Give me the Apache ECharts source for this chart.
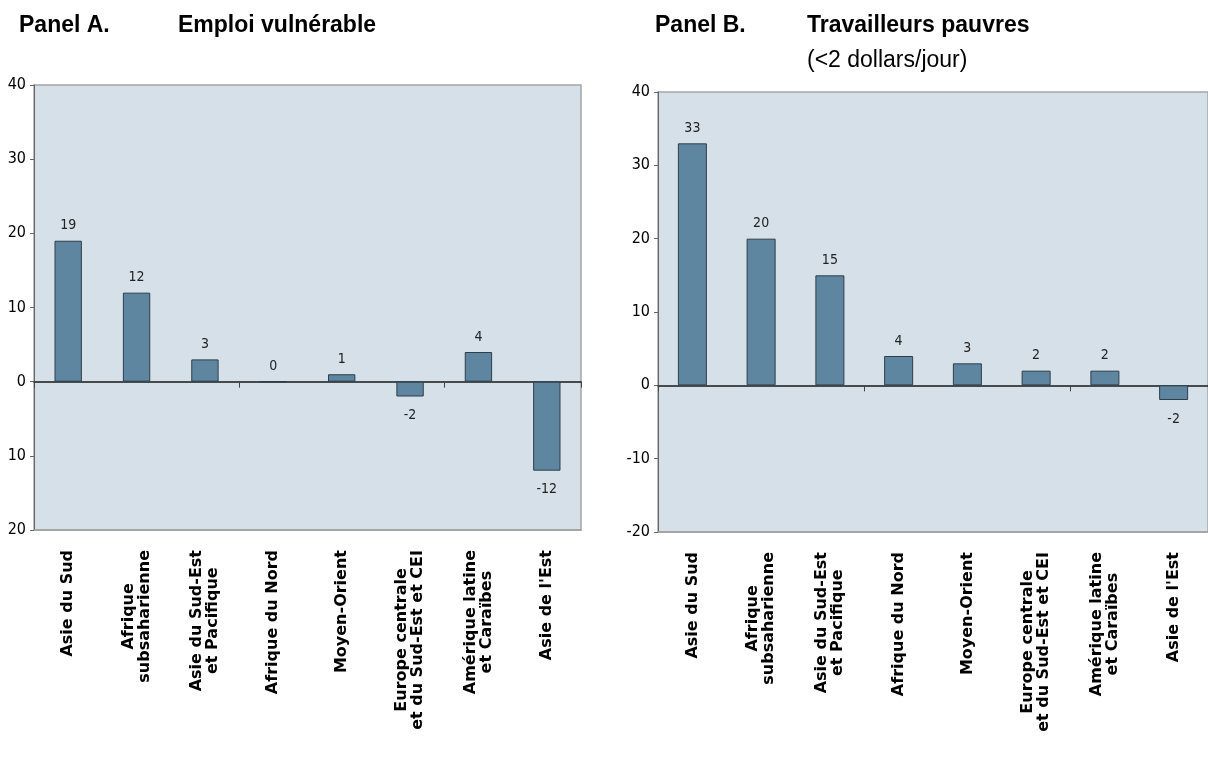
<!DOCTYPE html>
<html>
<head>
<meta charset="utf-8">
<script src="https://cdn.jsdelivr.net/npm/echarts@6/dist/echarts.min.js"></script>
<style>
html,body{margin:0;padding:0;background:#fff;}
#chart{width:1208px;height:767px;}
</style>
</head>
<body>
<div id="chart"></div>
<script>
const categories = ['Asie du Sud', 'Afrique\nsubsaharienne', 'Asie du Sud-Est\net Pacifique', 'Afrique du Nord', 'Moyen-Orient', 'Europe centrale\net du Sud-Est et CEI', 'Amérique latine\net Caraïbes', "Asie de l'Est"];
const valuesA = [19, 12, 3, 0, 1, -2, 4, -12];
const valuesB = [33, 20, 15, 4, 3, 2, 2, -2];
const yTickValues = [-20, -10, 0, 10, 20, 30, 40];
const yTickLabelsA = ['20', '10', '0', '10', '20', '30', '40'];
const yTickLabelsB = ['-20', '-10', '0', '10', '20', '30', '40'];
const titleA = ['Panel A.', 'Emploi vulnérable'];
const titleB = ['Panel B.', 'Travailleurs pauvres', '(<2 dollars/jour)'];

const NARROW = '"Liberation Sans Narrow", "Arial Narrow", "DejaVu Sans Condensed", "Liberation Sans", sans-serif';
const SANS = '"Liberation Sans", Arial, sans-serif';
const WIDE = '"DejaVu Sans", "Liberation Sans", sans-serif';
const BAR = '#5E86A1';

function tickFmt(labels) {
  return function (v) {
    const i = yTickValues.indexOf(v);
    return i >= 0 ? labels[i] : '';
  };
}
function barData(vals) {
  return vals.map(v => ({
    value: v,
    label: { position: v < 0 ? 'bottom' : 'top', distance: v < 0 ? 12 : 8 }
  }));
}
function catLabelFmt(v) {
  return v.split('\n').map(s => '{c|' + s + '}').join('\n');
}
function labelAxis(grid) {
  return {
    type: 'category', gridIndex: grid, data: categories, position: 'bottom',
    axisLine: { show: true, onZero: false, lineStyle: { color: '#A0A0A0', width: 1.5 } },
    axisTick: { show: false },
    axisLabel: {
      interval: 0, rotate: 90, margin: 20,
      formatter: catLabelFmt,
      rich: { c: { align: 'center', fontFamily: WIDE, fontWeight: 'bold', fontSize: 16, lineHeight: 16, color: '#000' } }
    }
  };
}
function zeroAxis(grid) {
  return {
    type: 'category', gridIndex: grid, data: categories, position: 'bottom',
    axisLine: { show: true, onZero: true, lineStyle: { color: '#1a1a1a', width: 1.5 } },
    axisTick: { show: true, length: 6, lineStyle: { color: '#444' } },
    axisLabel: { show: false }
  };
}
function valAxis(grid, labels) {
  return {
    type: 'value', gridIndex: grid, min: -20, max: 40, interval: 10,
    splitLine: { show: false },
    axisLine: { show: true, lineStyle: { color: '#666' } },
    axisTick: { show: true, length: 4, lineStyle: { color: '#666' } },
    axisLabel: { formatter: tickFmt(labels), fontFamily: NARROW, fontSize: 16, color: '#000', margin: 8 }
  };
}
function barSeries(xi, yi, vals, bw) {
  return {
    type: 'bar', xAxisIndex: xi, yAxisIndex: yi, data: barData(vals), barWidth: bw,
    itemStyle: { color: BAR, borderColor: '#2E3E4A', borderWidth: 1 },
    label: { show: true, fontFamily: NARROW, fontSize: 14, color: '#222' }
  };
}
function ttl(text, left, top, bold) {
  return { text: text, left: left, top: top, padding: 0,
    textStyle: { fontFamily: SANS, fontWeight: bold ? 'bold' : 'normal', fontSize: 23, color: '#000' } };
}

const chart = echarts.init(document.getElementById('chart'), null, { renderer: 'canvas' });
chart.setOption({
  animation: false,
  backgroundColor: '#fff',
  title: [
    ttl(titleA[0], 19, 14, true),
    ttl(titleA[1], 178, 14, true),
    ttl(titleB[0], 655, 14, true),
    ttl(titleB[1], 807, 14, true),
    ttl(titleB[2], 807, 49, false)
  ],
  grid: [
    { left: 34, top: 85, width: 547, height: 445, show: true, backgroundColor: '#D6E0E8', borderColor: '#A6A6A6', borderWidth: 1.5 },
    { left: 658, top: 92, width: 557, height: 440, show: true, backgroundColor: '#D6E0E8', borderColor: '#A6A6A6', borderWidth: 1.5 }
  ],
  xAxis: [labelAxis(0), zeroAxis(0), labelAxis(1), zeroAxis(1)],
  yAxis: [valAxis(0, yTickLabelsA), valAxis(1, yTickLabelsB)],
  series: [
    barSeries(0, 0, valuesA, '40%'),
    barSeries(2, 1, valuesB, 29)
  ]
});
</script>
</body>
</html>
